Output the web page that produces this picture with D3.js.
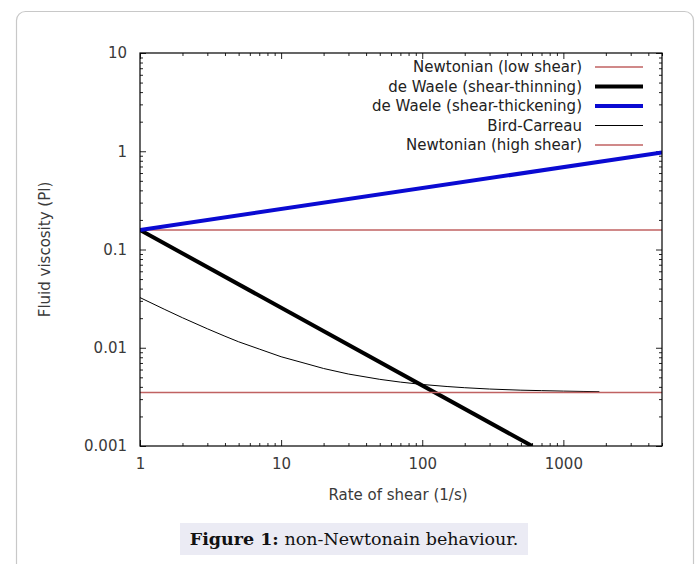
<!DOCTYPE html>
<html><head><meta charset="utf-8">
<script src="https://cdn.jsdelivr.net/npm/d3@7"></script>
<style>
html,body{margin:0;padding:0;background:#fff;}
svg{display:block;}
</style></head>
<body>
<svg id="chart" width="698" height="564"></svg>
<script>
// ---- data ----
const xMajorTicks = [1, 10, 100, 1000];
const yMajorTicks = [0.001, 0.01, 0.1, 1, 10];
const yTickLabels = ["0.001", "0.01", "0.1", "1", "10"];
const xTickLabels = ["1", "10", "100", "1000"];

const newtonianLow = [[1, 0.158], [5000, 0.158]];
const deWaeleThinning = [[1, 0.158], [600, 0.001]];
const deWaeleThickening = [[1, 0.158], [5000, 0.97]];
const birdCarreauX = [1, 1.5, 2, 3, 4, 5, 7, 10, 15, 20, 30, 50, 70, 100, 150, 200, 300, 500, 700, 1000, 1400, 1800];
const birdCarreauY = [0.0324, 0.0245, 0.0202, 0.0156, 0.0131, 0.0115, 0.0097, 0.0081, 0.0069, 0.00615, 0.0054, 0.00477, 0.00447, 0.00423, 0.00403, 0.00392, 0.0038, 0.0037, 0.00366, 0.00362, 0.00359, 0.00357];
const newtonianHigh = [[1, 0.0035], [5000, 0.0035]];

const legendLabels = ["Newtonian (low shear)", "de Waele (shear-thinning)", "de Waele (shear-thickening)", "Bird-Carreau", "Newtonian (high shear)"];
const seriesColors = ["#c06262", "#000000", "#0a0ad2", "#000000", "#c06262"];
const seriesWidths = [1.5, 4, 4, 1, 1.5];

const svg = d3.select("#chart");

// outer card
svg.append("rect").attr("x", 16.5).attr("y", 11.5).attr("width", 677).attr("height", 600)
  .attr("rx", 9).attr("fill", "#fff").attr("stroke", "#c8c8c8").attr("stroke-width", 1.2);

const L = 140, R = 662, T = 53, B = 446;
const x = d3.scaleLog().domain([1, 5000]).range([L, R]);
const y = d3.scaleLog().domain([0.001, 10]).range([B, T]);

function minors(lo, hi) {
  const out = [];
  for (let e = Math.floor(Math.log10(lo)); e <= Math.ceil(Math.log10(hi)); e++) {
    for (let m = 2; m <= 9; m++) {
      const v = m * Math.pow(10, e);
      if (v >= lo && v <= hi) out.push(v);
    }
  }
  return out;
}
const xMinor = minors(1, 5000);
const yMinor = minors(0.001, 10);

const font = "'DejaVu Sans', sans-serif";
const fs = 15;
const tickColor = "#222";
const textColor = "#3a3a3a";

function styleAxis(g) {
  g.select(".domain").remove();
  g.selectAll(".tick line").attr("stroke", tickColor).attr("stroke-width", 1);
  g.selectAll("text").attr("font-family", font).attr("font-size", fs).attr("fill", textColor);
}

// bottom
svg.append("g").attr("transform", `translate(0,${B})`)
  .call(d3.axisBottom(x).tickValues(xMajorTicks).tickSize(-6).tickPadding(12)
    .tickFormat((d, i) => xTickLabels[i])).call(styleAxis);
svg.append("g").attr("transform", `translate(0,${B})`)
  .call(d3.axisBottom(x).tickValues(xMinor).tickSize(-3).tickFormat("")).call(styleAxis);
// top
svg.append("g").attr("transform", `translate(0,${T})`)
  .call(d3.axisTop(x).tickValues(xMajorTicks).tickSize(-6).tickFormat("")).call(styleAxis);
svg.append("g").attr("transform", `translate(0,${T})`)
  .call(d3.axisTop(x).tickValues(xMinor).tickSize(-3).tickFormat("")).call(styleAxis);
// left
svg.append("g").attr("transform", `translate(${L},0)`)
  .call(d3.axisLeft(y).tickValues(yMajorTicks).tickSize(-6).tickPadding(13)
    .tickFormat((d, i) => yTickLabels[i])).call(styleAxis);
svg.append("g").attr("transform", `translate(${L},0)`)
  .call(d3.axisLeft(y).tickValues(yMinor).tickSize(-3).tickFormat("")).call(styleAxis);
// right
svg.append("g").attr("transform", `translate(${R},0)`)
  .call(d3.axisRight(y).tickValues(yMajorTicks).tickSize(-6).tickFormat("")).call(styleAxis);
svg.append("g").attr("transform", `translate(${R},0)`)
  .call(d3.axisRight(y).tickValues(yMinor).tickSize(-3).tickFormat("")).call(styleAxis);

// clip
svg.append("clipPath").attr("id", "clip").append("rect")
  .attr("x", L).attr("y", T).attr("width", R - L).attr("height", B - T);

const line = d3.line().x(d => x(d[0])).y(d => y(d[1]));
const birdCarreau = birdCarreauX.map((v, i) => [v, birdCarreauY[i]]);
const allSeries = [newtonianLow, deWaeleThinning, deWaeleThickening, birdCarreau, newtonianHigh];

const plot = svg.append("g").attr("clip-path", "url(#clip)");
allSeries.forEach((s, i) => {
  plot.append("path").datum(s).attr("d", line).attr("fill", "none")
    .attr("stroke", seriesColors[i]).attr("stroke-width", seriesWidths[i])
    .attr("stroke-linejoin", "round");
});

// frame
svg.append("rect").attr("x", L).attr("y", T).attr("width", R - L).attr("height", B - T)
  .attr("fill", "none").attr("stroke", "#000").attr("stroke-width", 1.2);

// legend
const lg = svg.append("g");
legendLabels.forEach((lab, i) => {
  const yy = 67 + i * 19.5;
  lg.append("text").attr("x", 582).attr("y", yy).attr("dy", "0.35em")
    .attr("text-anchor", "end").attr("font-family", font).attr("font-size", fs)
    .attr("fill", "#222").text(lab);
  lg.append("line").attr("x1", 595).attr("x2", 643).attr("y1", yy).attr("y2", yy)
    .attr("stroke", seriesColors[i]).attr("stroke-width", seriesWidths[i]);
});

// axis titles
svg.append("text").attr("x", 398).attr("y", 495).attr("dy", "0.35em")
  .attr("text-anchor", "middle").attr("font-family", font).attr("font-size", fs)
  .attr("fill", textColor).text("Rate of shear (1/s)");
svg.append("text").attr("transform", `translate(45,${(T + B) / 2}) rotate(-90)`)
  .attr("dy", "0.35em").attr("text-anchor", "middle").attr("font-family", font)
  .attr("font-size", fs).attr("fill", textColor).text("Fluid viscosity (Pl)");

// caption
svg.append("rect").attr("x", 180).attr("y", 523).attr("width", 348).attr("height", 32)
  .attr("fill", "#ebebf4");
const cap = svg.append("text").attr("x", 354).attr("y", 539).attr("dy", "0.35em")
  .attr("text-anchor", "middle").attr("font-family", "'DejaVu Serif', 'Liberation Serif', serif")
  .attr("font-size", 17.5).attr("fill", "#111");
cap.append("tspan").attr("font-weight", "bold").text("Figure 1:");
cap.append("tspan").text(" non-Newtonain behaviour.");
</script>
</body></html>
